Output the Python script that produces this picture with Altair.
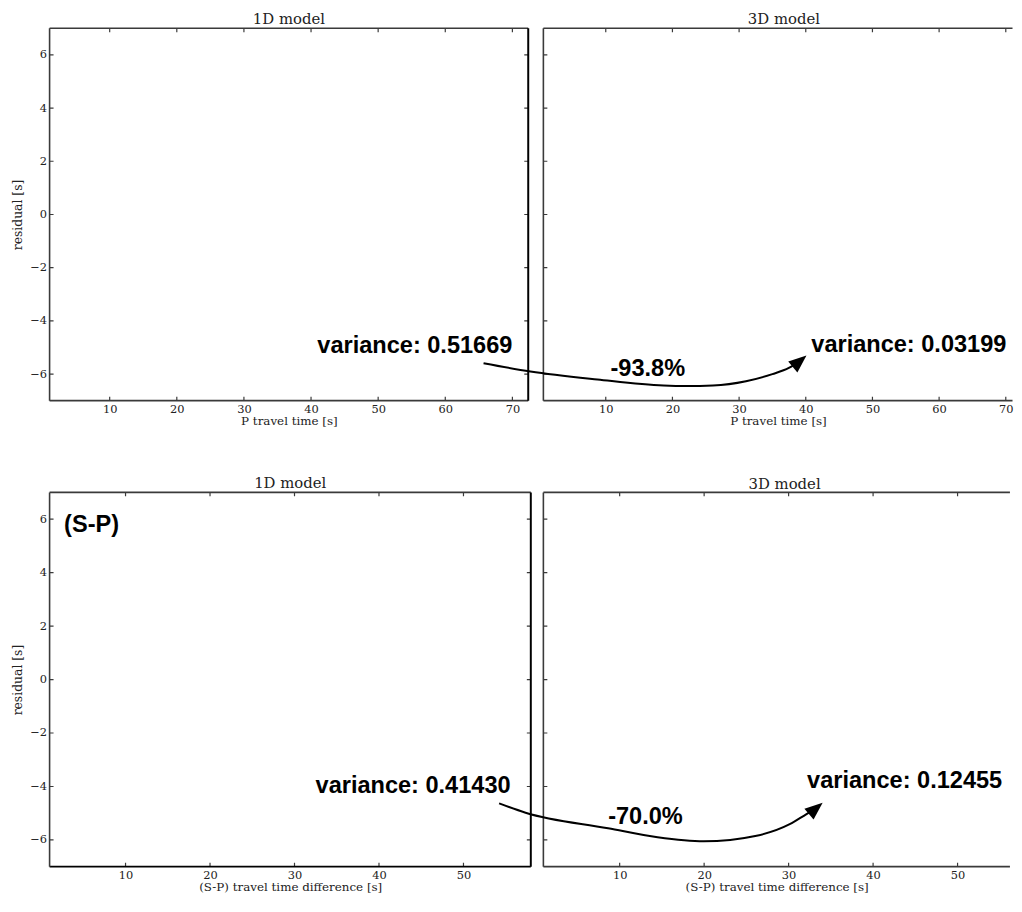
import altair as alt
import pandas as pd

# ---------------- data ----------------
top_x_ticks = [10, 20, 30, 40, 50, 60, 70]
bot_x_ticks = [10, 20, 30, 40, 50]
y_ticks = [-6, -4, -2, 0, 2, 4, 6]
y_domain = [-7, 7]

tl_xdomain = [1.045, 72.36]
tr_xdomain = [0.643, 71.01]
bl_xdomain = [1.01, 57.97]
br_xdomain = [0.97, 56.20]

# annotation texts (data coordinates of their own panel)
tl_text_x = [70.0]
tl_text_y = [-5.21]
tl_text = ["variance: 0.51669"]
tr_text_x = [40.83]
tr_text_y = [-5.18]
tr_text = ["variance: 0.03199"]
tr_pct_x = [16.3]
tr_pct_y = [-6.06]
tr_pct = ["-93.8%"]

bl_text_x = [55.58]
bl_text_y = [-4.24]
bl_text = ["variance: 0.41430"]
bl_tag_x = [2.73]
bl_tag_y = [5.52]
bl_tag = ["(S-P)"]
br_text_x = [32.19]
br_text_y = [-4.05]
br_text = ["variance: 0.12455"]
br_pct_x = [13.05]
br_pct_y = [-5.39]
br_pct = ["-70.0%"]

# arrows (in the right panel's data coordinates)
top_arrow_x = [-8.33, -1.30, 8.75, 18.66, 22.12, 26.08, 31.03, 34.99, 37.46, 39.08]
top_arrow_y = [-5.59, -5.90, -6.20, -6.43, -6.45, -6.43, -6.27, -6.00, -5.77, -5.52]
top_head_x = [39.08]
top_head_y = [-5.52]

bot_arrow_x = [-4.27, -1.14, 8.63, 14.49, 19.96, 26.21, 30.13, 32.07, 33.22]
bot_arrow_y = [-4.63, -4.98, -5.56, -5.90, -6.05, -5.84, -5.41, -5.04, -4.82]
bot_head_x = [33.22]
bot_head_y = [-4.82]

# ---------------- style ----------------
SERIF = "DejaVu Serif"
SANS = "Liberation Sans"
AX = "#3a3a3a"
LAB = "#222222"
HEAD_SHAPE = "M0,-1L-0.8,1L0.8,1Z"


def panel(xdomain, width, height, xticks, xtitle, ptitle, title_dx,
          left_labels, right_border, bottom_color, texts, arrow=None):
    xs = alt.Scale(domain=xdomain, nice=False, zero=False)
    ys = alt.Scale(domain=y_domain, nice=False, zero=False)

    xaxis = alt.Axis(
        values=xticks, ticks=False, domain=False, grid=False,
        labelFont=SERIF, labelFontSize=11.5, labelColor=LAB,
        labelPadding=3, labelFlush=False,
        title=xtitle, titleFont=SERIF, titleFontSize=12,
        titleFontWeight="normal", titleColor=LAB, titlePadding=1)
    if left_labels:
        yaxis = alt.Axis(
            values=y_ticks, ticks=False, domain=False, grid=False,
            labelFont=SERIF, labelFontSize=11.5, labelColor=LAB,
            labelPadding=3, labelFlush=False,
            title="residual [s]", titleFont=SERIF, titleFontSize=12.5,
            titleFontWeight="normal", titleColor=LAB, titlePadding=5)
    else:
        yaxis = alt.Axis(values=y_ticks, ticks=False, domain=False, grid=False,
                         labels=False, title=None)

    def X(field="x"):
        return alt.X(f"{field}:Q", scale=xs, axis=xaxis)

    def Y(field="y"):
        return alt.Y(f"{field}:Q", scale=ys, axis=yaxis)

    xt = pd.DataFrame({"x": xticks * 2,
                       "y": [y_domain[0]] * len(xticks) + [y_domain[1]] * len(xticks)})
    ytx = [xdomain[0]] * len(y_ticks)
    yty = list(y_ticks)
    if right_border:
        ytx += [xdomain[1]] * len(y_ticks)
        yty += list(y_ticks)
    yt = pd.DataFrame({"x": ytx, "y": yty})

    # inward ticks (half of a centred tick, clipped by the frame)
    vt = alt.Chart(xt).mark_tick(
        orient="vertical", size=8, thickness=1.2, color=AX, opacity=1, clip=True
    ).encode(x=X(), y=Y())
    ht = alt.Chart(yt).mark_tick(
        orient="horizontal", size=8, thickness=1.2, color=AX, opacity=1, clip=True
    ).encode(x=X(), y=Y())

    # frame lines
    top_line = alt.Chart(pd.DataFrame({"y": [y_domain[1]]})).mark_rule(
        color=AX, strokeWidth=1.6).encode(y=Y())
    bottom_line = alt.Chart(pd.DataFrame({"y": [y_domain[0]]})).mark_rule(
        color=bottom_color, strokeWidth=1.8).encode(y=Y())
    left_line = alt.Chart(pd.DataFrame({"x": [xdomain[0]]})).mark_rule(
        color=AX, strokeWidth=1.6).encode(x=X())

    layers = [vt, ht, top_line, bottom_line, left_line]
    if right_border:
        layers.append(alt.Chart(pd.DataFrame({"x": [xdomain[1]]})).mark_rule(
            color="black", strokeWidth=2).encode(x=X()))

    for xv, yv, labels, align in texts:
        df = pd.DataFrame({"x": xv, "y": yv, "label": labels})
        layers.append(alt.Chart(df).mark_text(
            align=align, baseline="alphabetic", font=SANS, fontWeight="bold",
            fontSize=23.8, color="black").encode(x=X(), y=Y(), text="label:N"))

    if arrow is not None:
        ax_, ay_, hx, hy = arrow
        layers.append(alt.Chart(pd.DataFrame({"x": ax_, "y": ay_})).mark_line(
            color="black", strokeWidth=2, interpolate="monotone").encode(x=X(), y=Y()))
        layers.append(alt.Chart(pd.DataFrame({"x": hx, "y": hy})).mark_point(
            shape=HEAD_SHAPE, filled=True, size=324, angle=50,
            color="black", opacity=1, strokeWidth=0).encode(x=X(), y=Y()))

    return alt.layer(*layers).properties(
        width=width, height=height,
        title=alt.TitleParams(ptitle, anchor="middle", dx=title_dx, offset=0,
                              frame="group", font=SERIF, fontSize=15,
                              fontWeight="normal", color=LAB),
    )


H_TOP = 376.2
H_BOT = 378.0
W_TL = 483.4
W_TR = 473.8
W_BL = 486.0
W_BR = 471.2

tl = panel(tl_xdomain, W_TL, H_TOP, top_x_ticks, "P travel time [s]", "1D model",
           0, True, True, AX,
           [(tl_text_x, tl_text_y, tl_text, "right")])
tr = panel(tr_xdomain, W_TR, H_TOP, top_x_ticks, "P travel time [s]", "3D model",
           6, False, False, AX,
           [(tr_text_x, tr_text_y, tr_text, "left"),
            (tr_pct_x, tr_pct_y, tr_pct, "center")],
           (top_arrow_x, top_arrow_y, top_head_x, top_head_y))
bl = panel(bl_xdomain, W_BL, H_BOT, bot_x_ticks, "(S-P) travel time difference [s]",
           "1D model", 0, True, True, "black",
           [(bl_text_x, bl_text_y, bl_text, "right"),
            (bl_tag_x, bl_tag_y, bl_tag, "left")])
br = panel(br_xdomain, W_BR, H_BOT, bot_x_ticks, "(S-P) travel time difference [s]",
           "3D model", 8, False, False, AX,
           [(br_text_x, br_text_y, br_text, "left"),
            (br_pct_x, br_pct_y, br_pct, "center")],
           (bot_arrow_x, bot_arrow_y, bot_head_x, bot_head_y))

chart = alt.concat(
    tl, tr, bl, br, columns=2,
    spacing={"row": 91.8, "column": 12.7},
    bounds="flush", align="none",
).configure_view(stroke=None).properties(
    padding={"left": 4, "top": 0, "right": 0, "bottom": 0},
    background="white",
)

chart.save("out.html", embed_options={"renderer": "svg", "actions": False})
